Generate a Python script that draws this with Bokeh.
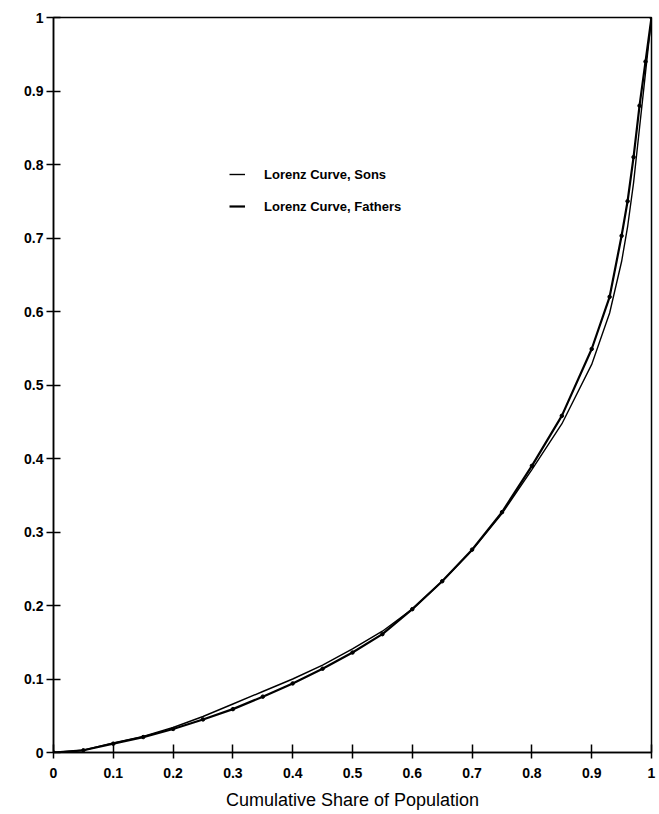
from bokeh.plotting import figure
from bokeh.models import Range1d, FixedTicker, Legend, LegendItem
from bokeh.embed import file_html
from bokeh.resources import INLINE

# Cumulative share of population (x) and cumulative share (y)
sons_x = [0, 0.05, 0.1, 0.15, 0.2, 0.25, 0.3, 0.35, 0.4, 0.45, 0.5, 0.55, 0.6, 0.65, 0.7,
          0.75, 0.8, 0.85, 0.9, 0.93, 0.95, 0.96, 0.97, 0.98, 0.99, 1.0]
sons_y = [0, 0.003, 0.013, 0.022, 0.034, 0.049, 0.066, 0.083, 0.100, 0.119, 0.141, 0.165, 0.195,
          0.233, 0.275, 0.325, 0.385, 0.447, 0.528, 0.598, 0.668, 0.715, 0.775, 0.850, 0.925, 1.0]

fathers_x = [0, 0.05, 0.1, 0.15, 0.2, 0.25, 0.3, 0.35, 0.4, 0.45, 0.5, 0.55, 0.6, 0.65, 0.7,
             0.75, 0.8, 0.85, 0.9, 0.93, 0.95, 0.96, 0.97, 0.98, 0.99, 1.0]
fathers_y = [0, 0.003, 0.012, 0.021, 0.032, 0.045, 0.059, 0.076, 0.094, 0.114, 0.136, 0.161, 0.195,
             0.233, 0.276, 0.327, 0.390, 0.458, 0.549, 0.620, 0.703, 0.750, 0.810, 0.880, 0.940, 1.0]

tick_values = [0, 0.1, 0.2, 0.3, 0.4, 0.5, 0.6, 0.7, 0.8, 0.9, 1.0]
tick_labels = ["0", "0.1", "0.2", "0.3", "0.4", "0.5", "0.6", "0.7", "0.8", "0.9", "1"]

series_labels = ["Lorenz Curve, Sons", "Lorenz Curve, Fathers"]

FONT = "Liberation Sans"

p = figure(width=657, height=812, output_backend="svg", toolbar_location=None,
           x_range=Range1d(0, 1), y_range=Range1d(0, 1),
           min_border_left=53, min_border_right=6, min_border_top=17, min_border_bottom=60)

p.xgrid.visible = False
p.ygrid.visible = False
p.background_fill_color = "white"
p.border_fill_color = "white"
p.outline_line_color = "black"
p.outline_line_width = 1.5

overrides = {v: l for v, l in zip(tick_values, tick_labels)}
for ax in (p.xaxis[0], p.yaxis[0]):
    ax.ticker = FixedTicker(ticks=tick_values)
    ax.major_label_overrides = overrides
    ax.minor_tick_line_color = None
    ax.axis_line_width = 1.5
    ax.major_tick_line_width = 1.5
    ax.major_label_text_font = FONT
    ax.major_label_text_font_style = "bold"
    ax.major_label_text_font_size = "14px"
    ax.major_label_text_color = "black"

p.xaxis.major_tick_in = 8
p.xaxis.major_tick_out = 6
p.xaxis.major_label_standoff = 9
p.yaxis.major_tick_in = 7
p.yaxis.major_tick_out = 7
p.yaxis.major_label_standoff = 3

p.xaxis.axis_label = "Cumulative Share of Population"
p.xaxis.axis_label_text_font = FONT
p.xaxis.axis_label_text_font_style = "normal"
p.xaxis.axis_label_text_font_size = "18px"
p.xaxis.axis_label_text_color = "black"
p.xaxis.axis_label_standoff = 9

r_sons = p.line(sons_x, sons_y, line_color="black", line_width=1.4)
r_fathers = p.line(fathers_x, fathers_y, line_color="black", line_width=2.2)
p.scatter(fathers_x, fathers_y, size=3.5, color="black")

legend = Legend(items=[LegendItem(label=series_labels[0], renderers=[r_sons]),
                       LegendItem(label=series_labels[1], renderers=[r_fathers])],
                location=(176, 536))
legend.border_line_color = None
legend.background_fill_alpha = 0
legend.padding = 0
legend.margin = 0
legend.spacing = 12
legend.label_height = 20
legend.glyph_height = 20
legend.glyph_width = 16
legend.label_standoff = 19
legend.label_text_font = FONT
legend.label_text_font_style = "bold"
legend.label_text_font_size = "13px"
legend.label_text_color = "black"
p.add_layout(legend)

open("out.html", "w").write(file_html(p, INLINE))
